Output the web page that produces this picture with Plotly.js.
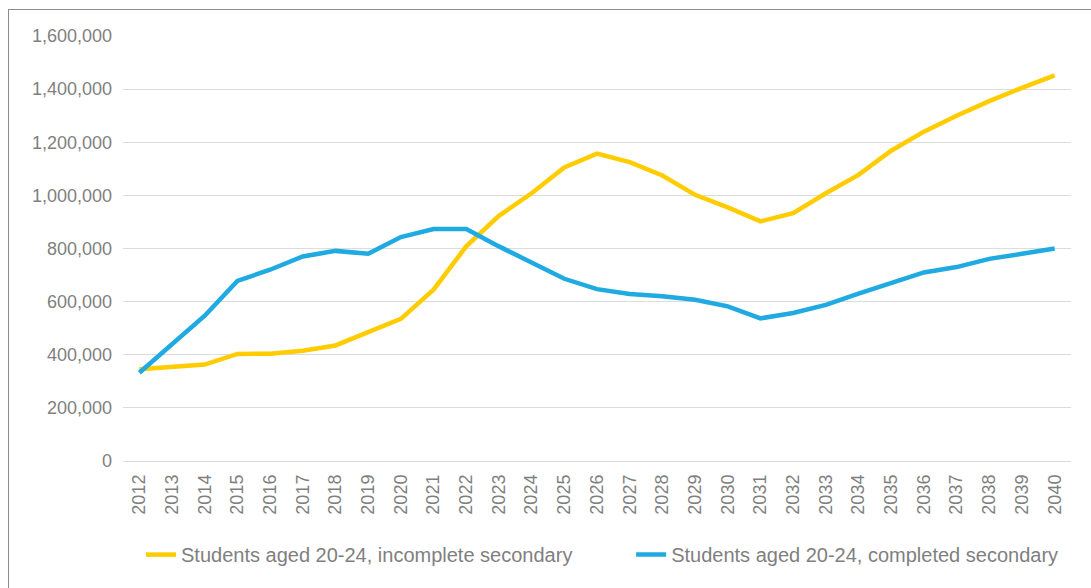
<!DOCTYPE html>
<html>
<head>
<meta charset="utf-8">
<script src="https://cdn.plot.ly/plotly-3.0.1.min.js"></script>
<style>
  html, body { margin: 0; padding: 0; background: #fff; }
  #wrap { position: relative; width: 1091px; height: 588px; }
  #chart { width: 1091px; height: 588px; }
  #frame { position: absolute; left: 8px; top: 9px; right: 0; bottom: 0;
           border-left: 1px solid #8c8c8c; border-top: 1px solid #8c8c8c; pointer-events: none; }
</style>
</head>
<body>
<div id="wrap">
  <div id="chart"></div>
  <div id="frame"></div>
</div>
<script>
const years = ["2012","2013","2014","2015","2016","2017","2018","2019","2020","2021",
  "2022","2023","2024","2025","2026","2027","2028","2029","2030","2031",
  "2032","2033","2034","2035","2036","2037","2038","2039","2040"];

const incompleteSecondary = [345000, 353000, 363000, 403000, 404000, 415000, 435000, 485000, 535000, 645000,
  808000, 923000, 1008000, 1105000, 1157000, 1125000, 1075000, 1002000, 955000, 902000,
  933000, 1008000, 1077000, 1168000, 1240000, 1300000, 1355000, 1405000, 1452000];

const completedSecondary = [332000, 438000, 547000, 678000, 720000, 770000, 791000, 780000, 843000, 873000,
  873000, 808000, 747000, 686000, 647000, 629000, 620000, 607000, 582000, 537000,
  557000, 588000, 630000, 670000, 710000, 730000, 761000, 780000, 800000];

const seriesNames = ["Students aged 20-24, incomplete secondary", "Students aged 20-24, completed secondary"];

const textColor = "#7f7f7f";
const fontFamily = "'Liberation Sans', Arial, sans-serif";

const traces = [
  { x: years, y: incompleteSecondary, name: seriesNames[0], type: "scatter", mode: "lines",
    line: { color: "#FFCC00", width: 4.5 }, legend: "legend" },
  { x: years, y: completedSecondary, name: seriesNames[1], type: "scatter", mode: "lines",
    line: { color: "#1FAAE1", width: 4.5 }, legend: "legend2" }
];

const legendCommon = {
  orientation: "h", xanchor: "left",
  yref: "container", y: 0.09, yanchor: "top",
  font: { size: 20, color: textColor, family: fontFamily },
  bgcolor: "rgba(0,0,0,0)"
};

const layout = {
  width: 1091, height: 588,
  margin: { l: 123, r: 20, t: 36, b: 127 },
  paper_bgcolor: "#ffffff", plot_bgcolor: "#ffffff",
  font: { family: fontFamily, color: textColor, size: 18 },
  showlegend: true,
  legend: Object.assign({}, legendCommon, { x: 0.019 }),
  legend2: Object.assign({}, legendCommon, { x: 0.536 }),
  xaxis: {
    type: "category",
    range: [-0.5, years.length - 0.5],
    tickangle: -90,
    showgrid: false, zeroline: false, showline: false,
    ticks: "", tickfont: { size: 18, color: textColor },
    ticklabelstandoff: 9,
    automargin: false
  },
  yaxis: {
    range: [0, 1600000], dtick: 200000, tick0: 0,
    tickformat: ",d",
    showgrid: true, gridcolor: "#dcdcdc", gridwidth: 1,
    zeroline: true, zerolinecolor: "#dcdcdc", zerolinewidth: 1,
    showline: false, ticks: "",
    tickfont: { size: 18, color: textColor },
    ticklabelstandoff: 10,
    automargin: false
  }
};

Plotly.newPlot("chart", traces, layout, { staticPlot: true, displayModeBar: false });
</script>
</body>
</html>
